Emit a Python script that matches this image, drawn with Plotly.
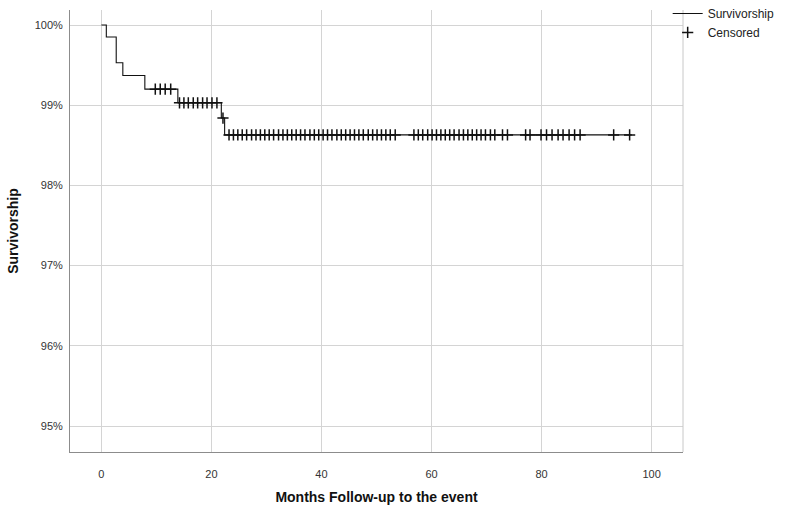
import plotly.graph_objects as go

# Kaplan-Meier step curve (months, survivorship %)
step_times = [0.0, 0.9, 2.7, 3.9, 7.9, 13.9, 21.8, 22.4, 96.4]
step_surv = [100.0, 99.85, 99.53, 99.37, 99.20, 99.03, 98.84, 98.63, 98.63]

# Censored observations (months) grouped by survivorship level
cens_9920 = [9.8, 10.7, 11.6, 12.6]
cens_9903 = [14.2, 15.0, 15.8, 16.7, 17.5, 18.4, 19.2, 20.1, 21.0]
cens_9884 = [22.1]
cens_9863 = [23.2, 24.0, 24.8, 25.6, 26.4, 27.3, 28.1, 28.9, 29.7, 30.5,
             31.3, 32.2, 33.0, 33.8, 34.6, 35.4, 36.2, 37.0, 37.9, 38.7,
             39.5, 40.3, 41.1, 41.9, 42.8, 43.6, 44.4, 45.2, 46.0, 46.8,
             47.6, 48.5, 49.3, 50.1, 50.9, 51.7, 52.5, 53.4,
             56.8, 57.6, 58.4, 59.3, 60.1, 60.9, 61.7, 62.5, 63.3, 64.1,
             65.0, 65.8, 66.6, 67.4, 68.2, 69.0, 69.8, 70.7, 71.5, 72.9,
             73.8, 77.1, 77.9, 79.9, 80.9, 81.9, 83.0, 83.9, 85.0, 86.0,
             87.0, 93.1, 96.0]

cens_x = cens_9920 + cens_9903 + cens_9884 + cens_9863
cens_y = ([99.20] * len(cens_9920) + [99.03] * len(cens_9903)
          + [98.84] * len(cens_9884) + [98.63] * len(cens_9863))

x_ticks = [0, 20, 40, 60, 80, 100]
y_ticks = [95, 96, 97, 98, 99, 100]
y_labels = ["95%", "96%", "97%", "98%", "99%", "100%"]

tick_font = dict(family="Liberation Sans, Arial, sans-serif", size=11, color="#333333")

fig = go.Figure()
fig.add_trace(go.Scatter(
    x=step_times, y=step_surv, mode="lines", line_shape="hv",
    line=dict(color="#111111", width=1.1), name="Survivorship"))
fig.add_trace(go.Scatter(
    x=cens_x, y=cens_y, mode="markers", name="Censored",
    marker=dict(symbol="cross-thin-open", size=8, color="#111111",
                line=dict(color="#111111", width=1.5))))

fig.update_layout(
    template="none",
    width=790, height=506,
    margin=dict(l=70, r=107, t=10, b=54, autoexpand=False),
    plot_bgcolor="white", paper_bgcolor="white",
    font=dict(family="Liberation Sans, Arial, sans-serif", size=11, color="#333333"),
    showlegend=True,
    legend=dict(x=0.975, y=1.025, xanchor="left", yanchor="top",
                font=dict(size=12, color="#222222"),
                bgcolor="rgba(0,0,0,0)", tracegroupgap=0,
                itemwidth=30),
    xaxis=dict(range=[-5.7, 105.7], tickvals=x_ticks, tickfont=tick_font,
               showgrid=True, gridcolor="#d4d4d4", gridwidth=1,
               zeroline=False, showline=True, linecolor="#8c8c8c", linewidth=1,
               ticks="", ticklabelstandoff=12,
               title=dict(text="<b>Months Follow-up to the event</b>",
                          font=dict(size=14, color="#111111"), standoff=12)),
    yaxis=dict(range=[94.676, 100.187], tickvals=y_ticks, ticktext=y_labels,
               tickfont=tick_font,
               showgrid=True, gridcolor="#d4d4d4", gridwidth=1,
               zeroline=False, showline=True, linecolor="#8c8c8c", linewidth=1,
               ticks="", ticklabelstandoff=4,
               title=dict(text="<b>Survivorship</b>",
                          font=dict(size=14, color="#111111"), standoff=12)),
)
fig.add_shape(type="line", xref="paper", yref="paper", x0=1, x1=1, y0=0, y1=1,
              line=dict(color="#c8c8c8", width=1))

fig.write_html("out.html")
